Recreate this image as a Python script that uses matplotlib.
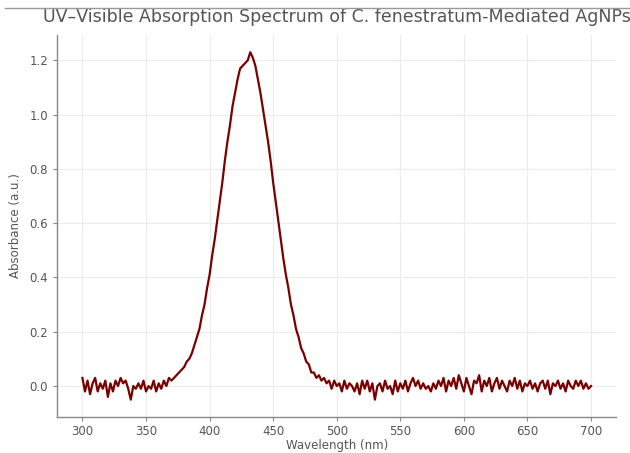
import matplotlib
matplotlib.use("Agg")
import matplotlib.pyplot as plt
from matplotlib.lines import Line2D
import numpy as np

# absorbance, every 2 nm from 300 to 700
base_left = [0.03, -0.02, 0.02, -0.03, 0.01, 0.03, -0.02, 0.01, -0.01, 0.02,
             -0.04, 0.01, -0.02, 0.02, 0.00, 0.03, 0.01, 0.02, -0.01, -0.05,
             0.00, -0.01, 0.01, -0.01, 0.02, -0.02, 0.00, -0.01, 0.02, -0.02,
             0.01, -0.01, 0.02, 0.00, 0.03, 0.02]
peak = [0.03, 0.04, 0.05, 0.06, 0.07, 0.09, 0.10, 0.12, 0.15, 0.18,
        0.21, 0.26, 0.30, 0.36, 0.41, 0.48, 0.54, 0.61, 0.68, 0.75,
        0.83, 0.90, 0.96, 1.03, 1.08, 1.13, 1.17, 1.18, 1.19, 1.20,
        1.23, 1.21, 1.18, 1.13, 1.08, 1.02, 0.96, 0.90, 0.83, 0.75,
        0.68, 0.61, 0.54, 0.47, 0.41, 0.36, 0.30, 0.26, 0.21, 0.18,
        0.14, 0.12, 0.09, 0.08, 0.05, 0.05, 0.03, 0.04]
base_right = [0.02, 0.03, 0.01, 0.02, -0.01, 0.02, 0.00, 0.01, -0.02, 0.02,
              -0.01, 0.01, 0.00, -0.02, 0.01, -0.03, 0.02, -0.01, 0.02, -0.02,
              0.01, -0.05, 0.00, 0.01, -0.02, 0.02, -0.01, 0.00, -0.03, 0.02,
              -0.02, 0.01, -0.01, 0.02, -0.02, 0.01, 0.03, 0.00, 0.02, -0.01,
              0.01, -0.01, 0.00, -0.02, 0.01, -0.01, 0.02, 0.00, 0.03, -0.02,
              0.02, 0.00, 0.03, -0.01, 0.04, 0.01, -0.02, 0.03, 0.00, -0.03,
              0.02, 0.01, 0.04, -0.02, 0.02, 0.00, 0.03, -0.02, 0.01, 0.03,
              -0.01, 0.02, 0.00, -0.02, 0.02, 0.00, 0.03, -0.01, 0.02, -0.02,
              0.01, 0.00, 0.02, -0.01, 0.01, -0.02, 0.01, 0.02, -0.01, 0.02,
              -0.03, 0.01, 0.00, 0.02, -0.01, 0.01, -0.02, 0.02, 0.00, -0.01,
              0.02, 0.00, 0.02, -0.01, 0.01, -0.01, 0.00]

absorb = np.array(base_left + peak + base_right)
wavelength = np.arange(300, 300 + 2 * len(absorb), 2)

fig = plt.figure(figsize=(6.3, 4.53), dpi=100)
ax = fig.add_axes([0.0905, 0.0795, 0.888, 0.8435])

ax.plot(wavelength, absorb, color="#7a0000", lw=1.6)

ax.set_xticks(np.arange(300, 701, 50))
ax.set_yticks(np.arange(0, 1.21, 0.2))
ax.grid(True, color="#ececec", lw=0.8)
ax.set_axisbelow(True)

for s in ["top", "right"]:
    ax.spines[s].set_visible(False)
for s in ["left", "bottom"]:
    ax.spines[s].set_color("#888888")
    ax.spines[s].set_linewidth(1.0)
ax.tick_params(colors="#888888", labelcolor="#555555", labelsize=8.5, length=3, width=0.8)
ax.tick_params(axis="x", pad=2.5)

ax.set_xlabel("Wavelength (nm)", fontsize=8.5, color="#555555", labelpad=1)
ax.set_ylabel("Absorbance (a.u.)", fontsize=8.5, color="#555555", labelpad=5)
ax.set_title("UV–Visible Absorption Spectrum of C. fenestratum-Mediated AgNPs",
             fontsize=12.5, color="#555555", pad=9)

fig.add_artist(Line2D([0.008, 1.0], [1 - 8 / 453] * 2, transform=fig.transFigure,
                      color="#999999", lw=1.0))

fig.savefig("out.png", dpi=100)
